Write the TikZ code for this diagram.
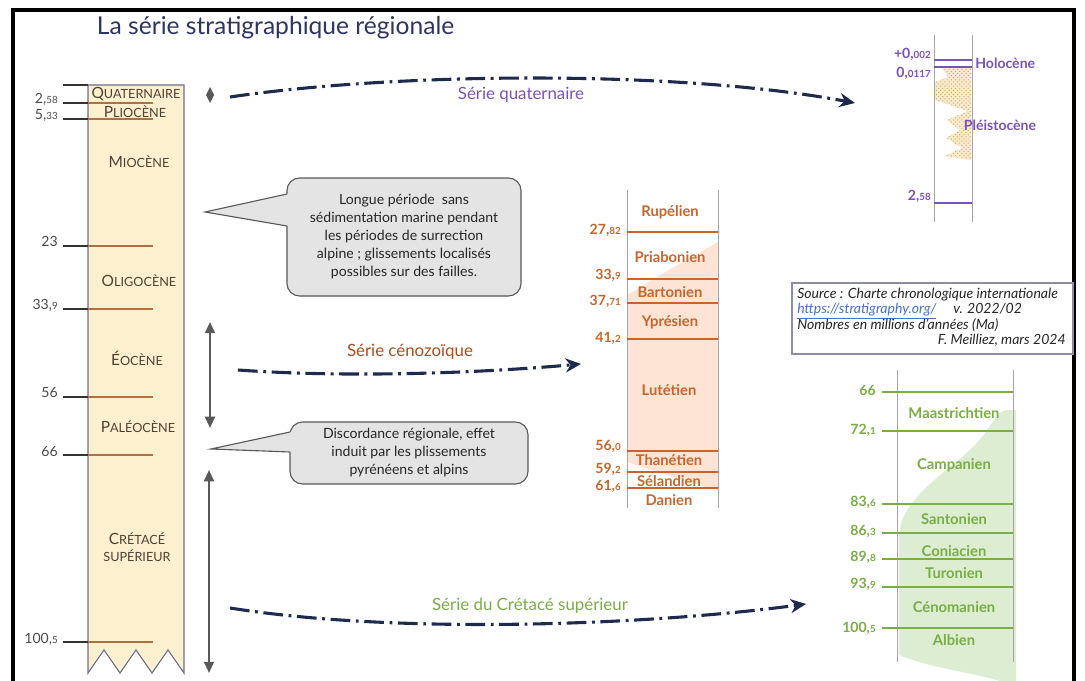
\documentclass[tikz,border=0pt]{standalone}
\usepackage{fontspec}
\setmainfont{Lato}
\usepackage{tikz}
\usetikzlibrary{positioning}
\usetikzlibrary{patterns}
\usetikzlibrary{arrows.meta}

\definecolor{titlenavy}{HTML}{2E3563}
\definecolor{arrownavy}{HTML}{1F2A4F}
\definecolor{sandfill}{HTML}{FDF0CE}
\definecolor{colborder}{HTML}{6E6E8E}
\definecolor{boxborder}{HTML}{8C8CA4}
\definecolor{brownline}{HTML}{B07040}
\definecolor{epochtext}{HTML}{4E4236}
\definecolor{numgray}{HTML}{4A4A4A}
\definecolor{orangetxt}{HTML}{C8652C}
\definecolor{orangefill}{HTML}{FDE4D4}
\definecolor{purpletxt}{HTML}{7B52B8}
\definecolor{dotyellow}{HTML}{D9AE4A}
\definecolor{greentxt}{HTML}{78AE45}
\definecolor{greenfill}{HTML}{DDEDD2}
\definecolor{bubblegray}{HTML}{E4E4E4}
\definecolor{linkblue}{HTML}{4A72C4}
\definecolor{serieorange}{HTML}{A84E1E}

\newcommand*{\dec}[1]{{\fontsize{7}{8}\selectfont #1}}
\newcommand*{\fsc}[2]{#1{\fontsize{9}{11}\selectfont #2}}

\tikzset{
 epoch/.style={text=epochtext, font=\fontsize{11}{13}\selectfont, align=center, inner sep=0pt},
 agelbl/.style={text=numgray, font=\fontsize{10}{12}\selectfont, anchor=base east, inner sep=0pt},
 colage/.style={font=\bfseries\fontsize{10}{12}\selectfont, anchor=east, inner sep=0pt},
 stagelbl/.style={font=\bfseries\fontsize{10.5}{12}\selectfont, inner sep=0pt},
 tickblack/.style={line width=1pt, black!80},
 tickbrown/.style={line width=1pt, brownline},
 colside/.style={line width=0.6pt, gray!70},
 bubble/.style={fill=bubblegray, draw=black!65, line width=0.8pt, rounded corners=9pt,
   align=center, font=\fontsize{10}{12.8}\selectfont, text=black!85},
 serie/.style={arrownavy, line width=2.2pt, dash pattern=on 14pt off 4pt on 2pt off 4pt,
   -{Stealth[length=11pt, width=10pt]}},
 span/.style={black!65, line width=1.6pt,
   {Triangle[length=8pt,width=7pt]}-{Triangle[length=8pt,width=7pt]}},
 source/.style={font=\itshape\fontsize{10}{12}\selectfont, text=black!85, inner sep=0pt},
}

\begin{document}
\begin{tikzpicture}[x=0.025cm, y=-0.025cm]
\useasboundingbox (0,0) rectangle (1085,681);

% frame and title
\draw[line width=2.2pt] (13,681) -- (13,10) -- (1074,10) -- (1074,681);
\node[anchor=west, text=titlenavy, font=\fontsize{17.5}{20}\selectfont] (title) at (92,28) {La série stratigraphique régionale};

% regional column
\draw[fill=sandfill, draw=colborder, line width=0.8pt] (88,85) -- (184,85) -- (184,673) -- (168,650)
  -- (152,673) -- (136,650) -- (120,673) -- (104,650) -- (88,673) -- cycle;

\draw[tickblack] (63,85) -- (88,85);
\draw[tickblack] (63,103) -- (88,103); \draw[tickbrown] (88,103) -- (153,103);
\draw[tickblack] (63,119) -- (88,119); \draw[tickbrown] (88,119) -- (153,119);
\draw[tickblack] (63,246) -- (88,246); \draw[tickbrown] (88,246) -- (153,246);
\draw[tickblack] (63,309) -- (88,309); \draw[tickbrown] (88,309) -- (153,309);
\draw[tickblack] (63,397) -- (88,397); \draw[tickbrown] (88,397) -- (153,397);
\draw[tickblack] (63,455) -- (88,455); \draw[tickbrown] (88,455) -- (153,455);
\draw[tickblack] (63,642) -- (88,642); \draw[tickbrown] (88,642) -- (153,642);

\node[agelbl] (r258) at (58,104) {2,\dec{58}};
\node[agelbl] (r533) at (58,120) {5,\dec{33}};
\node[agelbl] (r23) at (58,247) {23};
\node[agelbl] (r339) at (58,310) {33,\dec{9}};
\node[agelbl] (r56) at (58,398) {56};
\node[agelbl] (r66) at (58,456) {66};
\node[agelbl] (r1005) at (58,643) {100,\dec{5}};

\node[epoch] (quat) at (136,94) {\fsc{Q}{UATERNAIRE}};
\node[epoch] (plio) at (135,112) {\fsc{P}{LIOCÈNE}};
\node[epoch] (mio) at (139,162) {\fsc{M}{IOCÈNE}};
\node[epoch] (oligo) at (139,281) {\fsc{O}{LIGOCÈNE}};
\node[epoch] (eo) at (137,358) {\fsc{É}{OCÈNE}};
\node[epoch] (paleo) at (138,427) {\fsc{P}{ALÉOCÈNE}};
\node[epoch] (creta) at (137,547) {\fsc{C}{RÉTACÉ}\\[-1pt]{\fontsize{9}{11}\selectfont SUPÉRIEUR}};

% markers between the columns
\fill[black!65] (210,87) -- (214,95) -- (210,103) -- (206,95) -- cycle;
\coordinate (cenotop) at (210,322);
\coordinate (cenobot) at (210,428);
\coordinate (cretop) at (209,470);
\coordinate (crebot) at (209,673);
\draw[span] (cenotop) -- (cenobot);
\draw[span] (cretop) -- (crebot);

% callouts
\node[bubble, minimum width=5.85cm, minimum height=2.95cm] (gap) at (404,237)
  {Longue période\enspace sans\\sédimentation marine pendant\\les périodes de surrection\\alpine ; glissements localisés\\possibles sur des failles.};
\coordinate (gaptip) at (205,212);
\fill[bubblegray] (gaptip) -- (287,194) -- (293,194) -- (293,226) -- (287,226) -- cycle;
\draw[black!65, line width=0.8pt] (287,194) -- (gaptip) -- (287,226);

\node[bubble, minimum width=5.95cm, minimum height=1.55cm] (disc) at (409,453)
  {Discordance régionale, effet\\induit par les plissements\\pyrénéens et alpins};
\coordinate (disctip) at (211,449);
\fill[bubblegray] (disctip) -- (290,432) -- (296,432) -- (296,452) -- (290,452) -- cycle;
\draw[black!65, line width=0.8pt] (290,432) -- (disctip) -- (290,452);

% series arrows
\coordinate (qstart) at (230,97);
\coordinate (qend) at (855,103);
\draw[serie] (qstart) .. controls (400,72) and (680,70) .. (qend);
\node[text=purpletxt, font=\fontsize{12}{14}\selectfont] (qlbl) at (521,95) {Série quaternaire};

\coordinate (cstart) at (238,370);
\coordinate (cend) at (581,364);
\draw[serie] (cstart) .. controls (350,378) and (480,373) .. (cend);
\node[text=serieorange, font=\fontsize{12}{14}\selectfont] (clbl) at (410,352) {Série cénozoïque};

\coordinate (kstart) at (230,608);
\coordinate (kend) at (806,604);
\draw[serie] (kstart) .. controls (400,635) and (650,625) .. (kend);
\node[text=greentxt, font=\fontsize{12}{14}\selectfont] (klbl) at (530,606) {Série du Crétacé supérieur};

% quaternary column
\fill[dotyellow!25] (942,68) -- (971,68) -- (971,160) -- (945,156) -- (962,148)
  -- (946,138) -- (960,130) -- (947,120) -- (968,111) -- (935,100) -- (935,82) -- (948,77) -- cycle;
\fill[pattern=crosshatch dots, pattern color=dotyellow] (942,68) -- (971,68) -- (971,160) -- (945,156) -- (962,148)
  -- (946,138) -- (960,130) -- (947,120) -- (968,111) -- (935,100) -- (935,82) -- (948,77) -- cycle;
\draw[colside] (934,35) -- (934,222);
\draw[colside] (972,35) -- (972,222);
\draw[purpletxt, line width=1.2pt] (934,60) -- (972,60);
\draw[purpletxt, line width=1.2pt] (934,67) -- (972,67);
\draw[purpletxt, line width=1.2pt] (934,203) -- (972,203);
\node[colage, text=purpletxt] (p0002) at (931,54) {+0,\dec{002}};
\node[colage, text=purpletxt] (p00117) at (931,73) {0,\dec{0117}};
\node[colage, text=purpletxt] (p258) at (931,196) {2,\dec{58}};
\node[stagelbl, text=purpletxt, anchor=west, font=\bfseries\fontsize{10}{12}\selectfont] (holo) at (975,63) {Holocène};
\node[stagelbl, text=purpletxt, font=\bfseries\fontsize{10}{12}\selectfont] (pleisto) at (1000,125) {Pléistocène};

% cenozoic column
\fill[orangefill] (718,242) .. controls (700,252) and (680,264) .. (660,275)
  .. controls (645,284) and (635,291) .. (627,295) -- (627,462) -- (718,491) -- cycle;
\draw[colside] (627,190) -- (627,508);
\draw[colside] (718,190) -- (718,508);
\draw[orangetxt, line width=1.2pt] (627,232) -- (718,232);
\draw[orangetxt, line width=1.2pt] (627,279) -- (718,279);
\draw[orangetxt, line width=1.2pt] (627,303) -- (718,303);
\draw[orangetxt, line width=1.2pt] (627,339) -- (718,339);
\draw[orangetxt, line width=1.2pt] (627,451) -- (718,451);
\draw[orangetxt, line width=1.2pt] (627,472) -- (718,472);
\draw[orangetxt, line width=1.2pt] (627,488) -- (718,488);
\node[colage, text=orangetxt] (o2782) at (621,230) {27,\dec{82}};
\node[colage, text=orangetxt] (o339) at (621,275) {33,\dec{9}};
\node[colage, text=orangetxt] (o3771) at (621,301) {37,\dec{71}};
\node[colage, text=orangetxt] (o412) at (621,338) {41,\dec{2}};
\node[colage, text=orangetxt] (o560) at (621,446) {56,\dec{0}};
\node[colage, text=orangetxt] (o592) at (621,469) {59,\dec{2}};
\node[colage, text=orangetxt] (o616) at (621,486) {61,\dec{6}};
\node[stagelbl, text=orangetxt] (rupel) at (670,212) {Rupélien};
\node[stagelbl, text=orangetxt] (priab) at (670,257) {Priabonien};
\node[stagelbl, text=orangetxt] (barto) at (670,292) {Bartonien};
\node[stagelbl, text=orangetxt] (ypres) at (670,322) {Yprésien};
\node[stagelbl, text=orangetxt] (lutet) at (669,390) {Lutétien};
\node[stagelbl, text=orangetxt] (thanet) at (669,460) {Thanétien};
\node[stagelbl, text=orangetxt] (seland) at (669,481) {Sélandien};
\node[stagelbl, text=orangetxt] (danien) at (669,500) {Danien};

% source
\draw[draw=boxborder, line width=0.8pt] (792,283) rectangle (1073,354);
\node[source, anchor=base west] (src1) at (797,299) {Source : Charte chronologique internationale};
\node[source, anchor=base west, text=linkblue] (src2) at (797,314) {\underline{https://stratigraphy.org/}};
\node[source, anchor=base west] (src3) at (953,314) {v. 2022/02};
\node[source, anchor=base west] (src4) at (797,330) {Nombres en millions d’années (Ma)};
\node[source, anchor=base east] (src5) at (1066,345) {F. Meilliez, mars 2024};

% upper cretaceous column
\fill[greenfill] (1016,410) -- (1006,410) .. controls (995,412) and (990,430) .. (975,445)
  .. controls (955,465) and (930,480) .. (912,503) .. controls (903,515) and (899,525) .. (899,540)
  -- (899,655) .. controls (930,668) and (970,672) .. (1000,681) -- (1016,681) -- cycle;
\draw[colside] (897,370) -- (897,662);
\draw[colside] (1013,370) -- (1013,662);
\draw[greentxt, line width=1.2pt] (882,392) -- (1013,392);
\draw[greentxt, line width=1.2pt] (882,431) -- (1013,431);
\draw[greentxt, line width=1.2pt] (882,504) -- (1013,504);
\draw[greentxt, line width=1.2pt] (882,533) -- (1013,533);
\draw[greentxt, line width=1.2pt] (882,559) -- (1013,559);
\draw[greentxt, line width=1.2pt] (882,587) -- (1013,587);
\draw[greentxt, line width=1.2pt] (882,628) -- (1013,628);
\node[colage, text=greentxt] (g66) at (876,390) {66};
\node[colage, text=greentxt] (g721) at (876,430) {72,\dec{1}};
\node[colage, text=greentxt] (g836) at (876,502) {83,\dec{6}};
\node[colage, text=greentxt] (g863) at (876,531) {86,\dec{3}};
\node[colage, text=greentxt] (g898) at (876,557) {89,\dec{8}};
\node[colage, text=greentxt] (g939) at (876,584) {93,\dec{9}};
\node[colage, text=greentxt] (g1005) at (876,628) {100,\dec{5}};
\node[stagelbl, text=greentxt] (maas) at (954,413) {Maastrichtien};
\node[stagelbl, text=greentxt] (camp) at (954,465) {Campanien};
\node[stagelbl, text=greentxt] (santo) at (954,519) {Santonien};
\node[stagelbl, text=greentxt] (conia) at (954,551) {Coniacien};
\node[stagelbl, text=greentxt] (turon) at (954,573) {Turonien};
\node[stagelbl, text=greentxt] (ceno) at (954,607) {Cénomanien};
\node[stagelbl, text=greentxt] (albien) at (954,640) {Albien};
\end{tikzpicture}
\end{document}
